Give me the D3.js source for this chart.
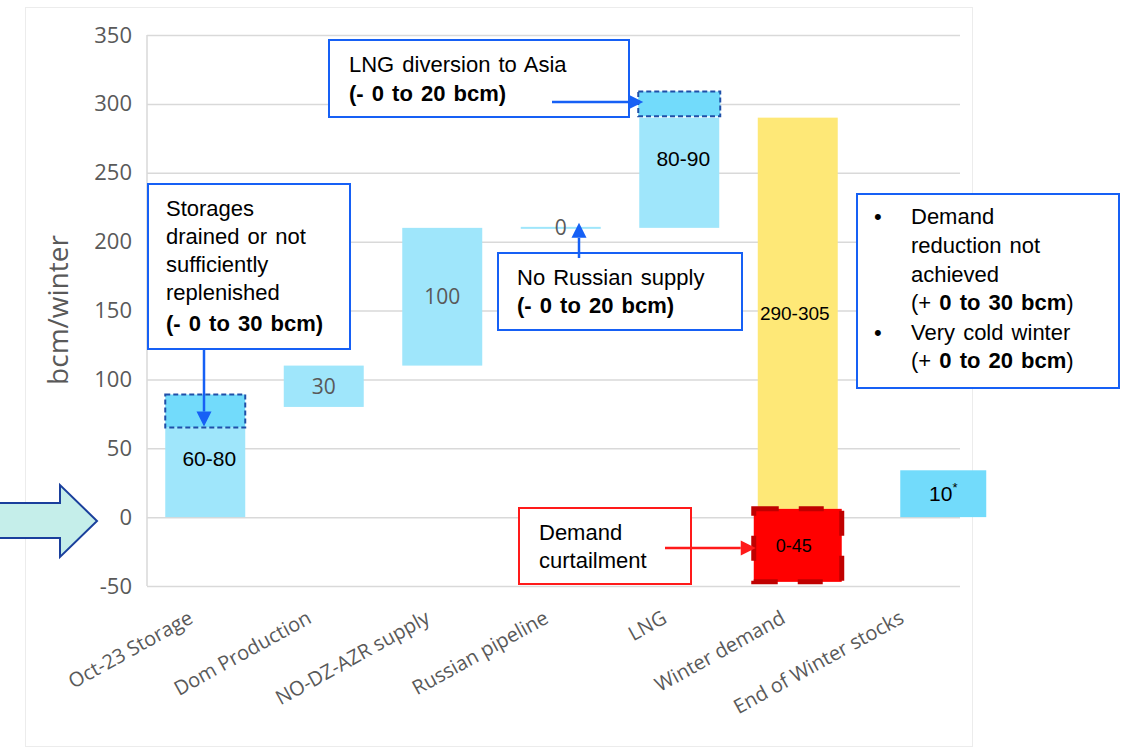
<!DOCTYPE html>
<html><head><meta charset="utf-8">
<script src="https://cdn.jsdelivr.net/npm/d3@7"></script>
<style>body{margin:0;background:#fff;} svg{display:block;}</style>
</head><body><svg id="c" width="1125" height="748"></svg>
<script>
// ---------- data ----------
const categories = ["Oct-23 Storage","Dom Production","NO-DZ-AZR supply","Russian pipeline","LNG","Winter demand","End of Winter stocks"];
const barBase   = [0, 80, 110, 210, 210, 6, 0];
const barTop    = [65, 110, 210, 210, 290, 290, 34];
const barLabels = ["60-80","30","100","0","80-90","290-305","10"];
const rangeLow  = [65, null, null, null, 291, -47, null];   // uncertainty (dashed) boxes
const rangeHigh = [89, null, null, null, 309, 6, null];
const yTicks = [-50, 0, 50, 100, 150, 200, 250, 300, 350];

// ---------- layout ----------
const svg = d3.select("#c");
const plotL = 147, plotR = 960, plotT = 35, plotB = 586;
const y = d3.scaleLinear().domain([-50, 350]).range([plotB, plotT]);
const x = d3.scaleBand().domain(categories).range([146, 975.5]).paddingInner(0.325).paddingOuter(0.1625);
const bw = x.bandwidth();
const cx = c => x(c) + bw / 2;

// outer frame
svg.append("rect").attr("x", 25.5).attr("y", 7.5).attr("width", 947).attr("height", 739)
  .attr("fill", "none").attr("stroke", "#ececec").attr("stroke-width", 1);

// gridlines
svg.append("g").attr("transform", `translate(${plotL},0)`)
  .call(d3.axisLeft(y).tickValues(yTicks).tickSize(-(plotR - plotL)).tickFormat(""))
  .call(g => g.select(".domain").remove())
  .call(g => g.selectAll("line").attr("stroke", "#d9d9d9").attr("stroke-width", 1.5));
// left axis line
svg.append("line").attr("x1", plotL).attr("x2", plotL).attr("y1", y(350)).attr("y2", y(-50))
  .attr("stroke", "#d9d9d9").attr("stroke-width", 1.5);

// y axis labels
svg.append("g").attr("transform", `translate(${plotL},0)`)
  .call(d3.axisLeft(y).tickValues(yTicks).tickSize(0).tickPadding(15).tickFormat(d => String(d)))
  .call(g => g.select(".domain").remove())
  .call(g => g.selectAll("text").attr("font-family", "Open Sans").attr("font-size", 22).attr("fill", "#595959"));

svg.append("text").attr("transform", "translate(68,310) rotate(-90)")
  .attr("text-anchor", "middle").attr("font-family", "Open Sans").attr("font-size", 28)
  .attr("fill", "#595959").text("bcm/winter");

// x labels
svg.append("g").selectAll("text").data(categories).join("text")
  .attr("transform", d => `translate(${cx(d) - 11},622) rotate(-29)`)
  .attr("text-anchor", "end").attr("font-family", "Open Sans").attr("font-size", 20)
  .attr("fill", "#595959").text(d => d);

// bars
const fillOf = i => i === 5 ? "#fee877" : (i === 6 ? "#72dbfb" : "#9fe6fb");
const nudge = i => i === 6 ? 27 : 0;
const barW = i => i === 6 ? bw + 6 : bw;
svg.append("g").selectAll("rect").data(categories).join("rect")
  .attr("x", (d, i) => cx(d) - barW(i) / 2 + nudge(i))
  .attr("y", (d, i) => y(barTop[i]) - (barTop[i] === barBase[i] ? 1 : 0))
  .attr("width", (d, i) => barW(i))
  .attr("height", (d, i) => Math.max(2, y(barBase[i]) - y(barTop[i])))
  .attr("fill", (d, i) => fillOf(i));

// dashed uncertainty boxes
categories.forEach((c, i) => {
  if (rangeLow[i] === null) return;
  const isRed = i === 5;
  const w = isRed ? bw + 8 : bw + (i === 4 ? 2 : 0);
  svg.append("rect")
    .attr("x", cx(c) - w / 2).attr("y", y(rangeHigh[i]))
    .attr("width", w).attr("height", y(rangeLow[i]) - y(rangeHigh[i]))
    .attr("fill", isRed ? "#ff0000" : "#72dbfb")
    .attr("stroke", isRed ? "#c00000" : "#1f4fa8")
    .attr("stroke-width", isRed ? 5 : 2)
    .attr("stroke-dasharray", isRed ? "25,20" : "5,3");
});

// bar labels
categories.forEach((c, i) => {
  const gray = (i >= 1 && i <= 3);
  const mid = i === 5 ? (barBase[i] + barTop[i]) / 2 : (i === 3 ? barTop[i] : (barBase[i] + barTop[i]) / 2 + (i === 0 || i === 4 ? 10 : 0));
  const t = svg.append("text")
    .attr("x", cx(c) + nudge(i) + (i === 0 || i === 4 ? 4 : (i === 5 ? -3 : 0)))
    .attr("y", y(mid)).attr("dy", "0.35em")
    .attr("text-anchor", "middle")
    .attr("font-family", gray ? "Open Sans" : "Liberation Sans, Arial")
    .attr("font-size", i === 5 ? 19 : 21)
    .attr("fill", gray ? "#595959" : "#000")
    .text(barLabels[i]);
  if (i === 6) t.append("tspan").attr("font-size", 13).attr("dy", "-0.7em").text("*");
});
// red box label
svg.append("text").attr("x", cx(categories[5]) - 4).attr("y", y((rangeLow[5] + rangeHigh[5]) / 2))
  .attr("dy", "0.35em").attr("text-anchor", "middle")
  .attr("font-family", "Liberation Sans, Arial").attr("font-size", 18).attr("fill", "#000").text("0-45");

// ---------- annotations ----------
const BLUE = "#1660f5", RED = "#ff1a1a";
function box(x0, y0, w, h, color, lines) {
  svg.append("rect").attr("x", x0).attr("y", y0).attr("width", w).attr("height", h)
    .attr("fill", "#fff").attr("stroke", color).attr("stroke-width", 2);
  lines.forEach(l => {
    const t = svg.append("text").attr("x", l.x).attr("y", l.y)
      .attr("font-family", "Liberation Sans, Arial").attr("font-size", 22).attr("fill", "#000")
      .attr("word-spacing", 2);
    l.parts.forEach(p => t.append("tspan").attr("font-weight", p.b ? "bold" : "normal").text(p.t));
  });
}
function arrow(x1, y1, x2, y2, color) {
  const a = Math.atan2(y2 - y1, x2 - x1), L = 15, W = 7.5;
  const bx = x2 - L * Math.cos(a), by = y2 - L * Math.sin(a);
  svg.append("line").attr("x1", x1).attr("y1", y1).attr("x2", bx).attr("y2", by)
    .attr("stroke", color).attr("stroke-width", 2.5);
  svg.append("path").attr("d", `M${x2},${y2}L${bx - W * Math.sin(a)},${by + W * Math.cos(a)}L${bx + W * Math.sin(a)},${by - W * Math.cos(a)}Z`)
    .attr("fill", color);
}

// storage box
box(148, 184, 202, 165, BLUE, [
  {x: 166, y: 216, parts: [{t: "Storages"}]},
  {x: 166, y: 244, parts: [{t: "drained or not"}]},
  {x: 166, y: 272, parts: [{t: "sufficiently"}]},
  {x: 166, y: 300, parts: [{t: "replenished"}]},
  {x: 166, y: 331, parts: [{t: "(- 0 to 30 bcm)", b: true}]}
]);
arrow(204, 349, 204, y(rangeLow[0]) - 1, BLUE);

// LNG diversion box
box(329, 40, 300, 77, BLUE, [
  {x: 349, y: 72, parts: [{t: "LNG diversion to Asia"}]},
  {x: 349, y: 101, parts: [{t: "(- 0 to 20 bcm)", b: true}]}
]);
arrow(552, 102, x("LNG") + 4, 102, BLUE);

// No Russian supply box
box(498, 253, 244, 77, BLUE, [
  {x: 517, y: 285, parts: [{t: "No Russian supply"}]},
  {x: 517, y: 313, parts: [{t: "(- 0 to 20 bcm)", b: true}]}
]);
arrow(579, 258, 579, y(barTop[3]) - 5, BLUE);

// demand risk box
svg.append("rect").attr("x", 857).attr("y", 194).attr("width", 262).attr("height", 194)
  .attr("fill", "#fff").attr("stroke", BLUE).attr("stroke-width", 2);
const rl = [
  {y: 224, bullet: true, parts: [{t: "Demand"}]},
  {y: 253, parts: [{t: "reduction not"}]},
  {y: 282, parts: [{t: "achieved"}]},
  {y: 310, parts: [{t: "(+ "}, {t: "0 to 30 bcm", b: true}, {t: ")"}]},
  {y: 340, bullet: true, parts: [{t: "Very cold winter"}]},
  {y: 368, parts: [{t: "(+ "}, {t: "0 to 20 bcm", b: true}, {t: ")"}]}
];
rl.forEach(l => {
  if (l.bullet) svg.append("text").attr("x", 874).attr("y", l.y).attr("font-family", "Liberation Sans, Arial")
    .attr("font-size", 22).text("•");
  const t = svg.append("text").attr("x", 911).attr("y", l.y).attr("font-family", "Liberation Sans, Arial")
    .attr("font-size", 22).attr("word-spacing", 2);
  l.parts.forEach(p => t.append("tspan").attr("font-weight", p.b ? "bold" : "normal").text(p.t));
});

// demand curtailment box
box(519, 508, 172, 76, RED, [
  {x: 539, y: 540, parts: [{t: "Demand"}]},
  {x: 539, y: 568, parts: [{t: "curtailment"}]}
]);
arrow(665, 548, cx(categories[5]) - bw / 2 - 2, 548, RED);

// big block arrow on the left
svg.append("path").attr("d", "M-5,503L60,503L60,485L97,521L60,557L60,538L-5,538Z")
  .attr("fill", "#c5eeea").attr("stroke", "#1a3f9c").attr("stroke-width", 2);
</script></body></html>
